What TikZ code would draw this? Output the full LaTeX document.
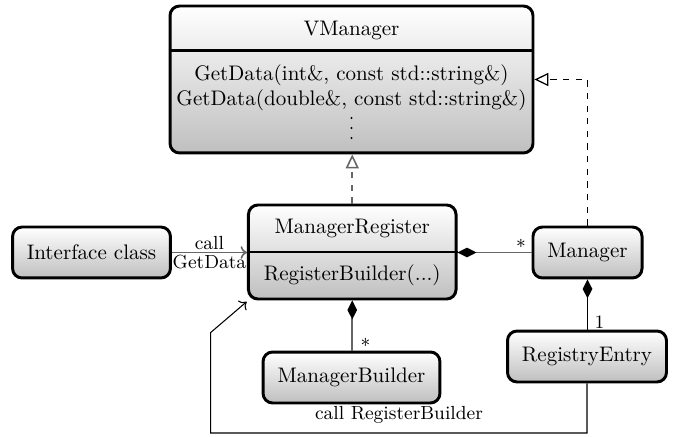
\documentclass[tikz,border=0pt]{standalone}
\usetikzlibrary{arrows.meta}
\begin{document}
\begin{tikzpicture}[x=0.475pt,y=-0.475pt,
  box/.style={draw, line width=1.4pt, rounded corners=4.5pt, top color=white, bottom color=gray!50, inner sep=0pt, minimum height=24.2pt},
  divider/.style={line width=1.4pt},
  conn/.style={draw=black!60, line width=0.75pt},
  connb/.style={draw=black, line width=0.6pt},
  comp/.style={{Diamond[length=9pt,width=4.6pt,color=black,fill=black]}-},
  real/.style={dashed, -{Triangle[open,length=6.6pt,width=6.2pt]}},
  lbl/.style={font=\small, inner sep=1pt},
  dotn/.style={circle, fill=black, inner sep=0pt, minimum size=1.1pt}
]
\useasboundingbox (0,0) rectangle (678,437);

% VManager
\node[box, minimum width=172.4pt, minimum height=69.8pt] (vm) at (351.5,79.5) {};
\draw[divider] ([yshift=-21.85pt]vm.north west) -- ([yshift=-21.85pt]vm.north east);
\node (vmt) at (351.5,30) {VManager};
\node (vm1) at (351.5,75) {GetData(int\&, const std::string\&)};
\node (vm2) at (351.5,100) {GetData(double\&, const std::string\&)};
\node[dotn] (d1) at (351.5,118) {};
\node[dotn] (d2) at (351.5,128) {};
\node[dotn] (d3) at (351.5,138) {};

% ManagerRegister
\node[box, minimum width=98.6pt, minimum height=44.65pt] (mr) at (352.25,252) {};
\draw[divider] (mr.west) -- (mr.east);
\node (mrt) at (352.25,228) {ManagerRegister};
\node (mr1) at (352.25,275) {RegisterBuilder(...)};

% other classes
\node[box, minimum width=75pt] (ic) at (91.5,252.5) {Interface class};
\node[box, minimum width=51.8pt] (mg) at (587.5,252.5) {Manager};
\node[box, minimum width=84pt] (mb) at (351.5,377.5) {ManagerBuilder};
\node[box, minimum width=75.5pt] (re) at (587,356.5) {RegistryEntry};

% connectors
\draw[conn, -{To[length=3pt,width=6pt]}] (ic.east) -- (ic.east -| mr.west)
  node[midway, above, lbl] {call} node[midway, below, lbl] {GetData};
\draw[conn, comp] (mr.east |- mg.west) -- (mg.west);
\node[lbl] (s1) at (521,246) {*};
\draw[conn, comp] (mr.south) -- (mr.south |- mb.north);
\node[lbl] (s2) at (365.5,345) {*};
\draw[connb, comp] (mg.south) -- (mg.south |- re.north);
\node[lbl] (one) at (599.5,322) {1};
\draw[conn, real] (mr.north) -- (mr.north |- vm.south);
\draw[connb, real] (mg.north) |- (vm.east);

% loop
\coordinate (l2) at (210.7,433);
\coordinate (l3) at (210.7,332.5);
\coordinate (tip) at (246.7,301.7);
\draw[black, line width=0.5pt, -{To[length=3pt,width=6pt]}] (re.south) |- (l2) -- (l3) -- (tip);
\node[lbl] (crb) at (399,415) {call RegisterBuilder};
\end{tikzpicture}
\end{document}
